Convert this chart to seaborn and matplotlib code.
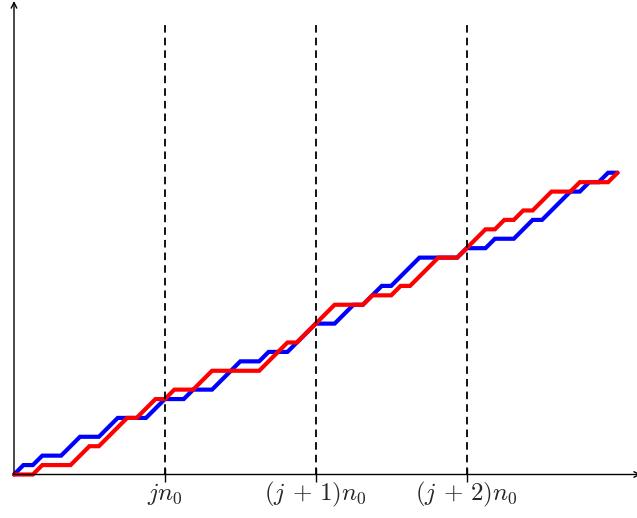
import numpy as np
import matplotlib
matplotlib.use('Agg')
import matplotlib.pyplot as plt
import seaborn as sns

# step sequences: 1 = diagonal up-step, 0 = flat step
blue_steps = [1, 0, 1, 0, 0, 1, 1, 0, 0, 1, 1, 0, 0, 0, 1, 1,
              0, 0, 1, 0, 0, 1, 1, 1, 0, 0, 1, 0, 0, 1, 1, 1,
              0, 0, 1, 1, 0, 1, 1, 0, 1, 1, 1, 0, 0, 0, 0, 1,
              0, 0, 1, 0, 0, 1, 1, 0, 1, 1, 1, 0, 1, 0, 1, 0]
red_steps = [0, 0, 1, 0, 0, 0, 1, 1, 0, 1, 1, 1, 0, 1, 1, 0,
             1, 0, 0, 1, 1, 0, 0, 0, 0, 0, 1, 1, 1, 0, 1, 1,
             1, 1, 0, 0, 0, 1, 0, 0, 1, 0, 1, 1, 1, 0, 0, 1,
             1, 1, 0, 1, 0, 1, 0, 1, 1, 0, 0, 1, 0, 0, 0, 1]
block_ticks = [16, 32, 48]
tick_labels = [r'$jn_0$', r'$(j\,+\,1)n_0$', r'$(j\,+\,2)n_0$']

sns.set_style('white')
plt.rcParams['mathtext.fontset'] = 'cm'

# path heights after each step
steps = np.arange(len(blue_steps) + 1)
blue_h = np.concatenate([[0], np.cumsum(blue_steps)])
red_h = np.concatenate([[0], np.cumsum(red_steps)])

fig = plt.figure(figsize=(6.37, 5.18), dpi=100)
ax = fig.add_axes([0, 0, 1, 1])
ax.axis('off')

u = 9.43  # pixels per unit step
ax.set_xlim(-14 / u, 623 / u)
ax.set_ylim((474.5 - 518) / u, 474.5 / u)

sns.lineplot(x=steps, y=blue_h, color='#0000ff', lw=3, estimator=None, sort=False, ax=ax, legend=False)
sns.lineplot(x=steps, y=red_h, color='#ff0000', lw=3, estimator=None, sort=False, ax=ax, legend=False)
for line in ax.lines:
    line.set_solid_joinstyle('miter')

# dashed block boundaries
for t in block_ticks:
    ax.plot([t, t], [0, (474.5 - 20) / u], color='black', lw=1.3, dashes=(4.2, 2.8), zorder=5)

# axes with arrows
ax.annotate('', xy=(627 / u, 0), xytext=(0, 0),
            arrowprops=dict(arrowstyle='->', lw=1, color='black', shrinkA=0, shrinkB=0),
            annotation_clip=False)
ax.annotate('', xy=(0, 473.5 / u), xytext=(0, 0),
            arrowprops=dict(arrowstyle='->', lw=1, color='black', shrinkA=0, shrinkB=0),
            annotation_clip=False)

# ticks and labels
ax.vlines(block_ticks, -0.75, 0.7, color='black', lw=1)
for t, lab in zip(block_ticks, tick_labels):
    ax.text(t, -2.1, lab, ha='center', va='center', fontsize=18)

plt.savefig('out.png', dpi=100)
